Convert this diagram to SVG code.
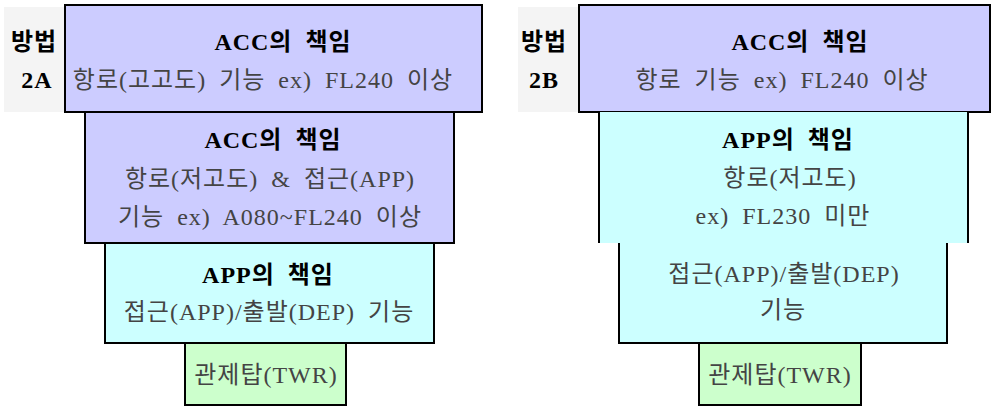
<svg xmlns="http://www.w3.org/2000/svg" width="992" height="408" viewBox="0 0 992 408">
<style>
.lbl{fill:#f4f4f4}
.acc{fill:#ccccff;stroke:#000;stroke-width:2}
.app{fill:#ccffff;stroke:#000;stroke-width:2}
.twr{fill:#ccffcc;stroke:#000;stroke-width:2}
.edge{fill:none;stroke:#000;stroke-width:2}
text{font-family:"Liberation Serif","Noto Sans CJK KR",serif;font-size:24px;letter-spacing:1px;word-spacing:6px;text-anchor:middle}
.t{font-weight:bold;fill:#000}
.b{fill:#444}
</style>
<rect width="992" height="408" fill="#fff"/>
<g id="label-2a">
<rect class="lbl" x="4" y="7" width="60" height="105"/>
<text class="t" x="34" y="50" font-size="22">방법</text>
<text class="t" x="37" y="88" font-size="22" letter-spacing="0">2A</text>
</g>
<g id="a-acc-high">
<rect class="acc" x="65" y="5" width="417" height="107"/>
<text class="t" x="283" y="50">ACC의 책임</text>
<text class="b" x="263" y="88">항로(고고도) 기능 ex) FL240 이상</text>
</g>
<g id="a-acc-low">
<rect class="acc" x="85" y="112" width="369" height="131"/>
<text class="t" x="273" y="148">ACC의 책임</text>
<text class="b" x="270" y="187">항로(저고도) &amp; 접근(APP)</text>
<text class="b" x="270" y="225">기능 ex) A080~FL240 이상</text>
</g>
<g id="a-app">
<rect class="app" x="105" y="243" width="329" height="100"/>
<text class="t" x="268" y="283">APP의 책임</text>
<text class="b" x="269" y="320">접근(APP)/출발(DEP) 기능</text>
</g>
<g id="a-twr">
<rect class="twr" x="185" y="343" width="161" height="62"/>
<text class="b" x="266" y="383">관제탑(TWR)</text>
</g>
<g id="label-2b">
<rect class="lbl" x="518" y="7" width="60" height="105"/>
<text class="t" x="544" y="50" font-size="22">방법</text>
<text class="t" x="544" y="88" font-size="22" letter-spacing="0">2B</text>
</g>
<g id="b-acc">
<rect class="acc" x="579" y="5" width="411" height="107"/>
<text class="t" x="800" y="50">ACC의 책임</text>
<text class="b" x="782" y="88">항로 기능 ex) FL240 이상</text>
</g>
<g id="b-app">
<rect x="599" y="112" width="369" height="131" fill="#ccffff"/>
<rect x="619" y="242" width="328" height="101" fill="#ccffff"/>
<path class="edge" d="M599 112V243M968 112V243M619 243V343H947V243"/>
<text class="t" x="788" y="148">APP의 책임</text>
<text class="b" x="790" y="186">항로(저고도)</text>
<text class="b" x="783" y="224">ex) FL230 미만</text>
<text class="b" x="784" y="282">접근(APP)/출발(DEP)</text>
<text class="b" x="783" y="318">기능</text>
</g>
<g id="b-twr">
<rect class="twr" x="699" y="343" width="162" height="62"/>
<text class="b" x="780" y="383">관제탑(TWR)</text>
</g>
<g id="connectors"></g>
</svg>
